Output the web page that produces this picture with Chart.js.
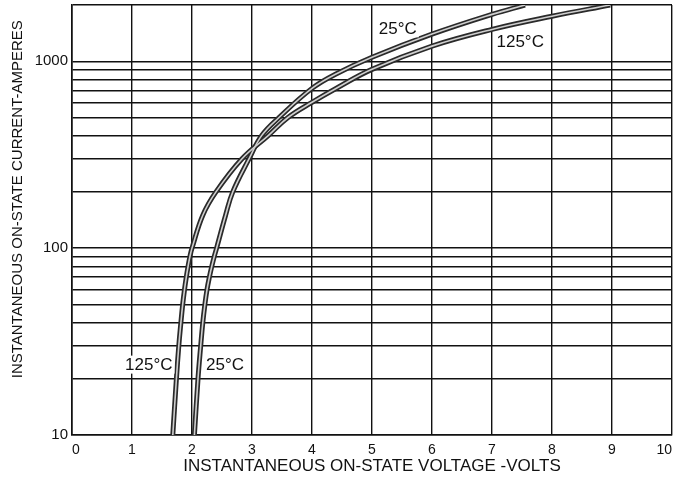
<!DOCTYPE html>
<html>
<head>
<meta charset="utf-8">
<script src="https://cdn.jsdelivr.net/npm/chart.js@4.4.0/dist/chart.umd.min.js"></script>
<style>
  html, body { margin: 0; padding: 0; background: #fff; }
  #wrap { width: 675px; height: 489px; }
</style>
</head>
<body>
<div id="wrap"><canvas id="vi"></canvas></div>
<script>
// on-state voltage (V) vs on-state current (A)
var volts25 = [2.04, 2.10, 2.145, 2.18, 2.215, 2.25, 2.29, 2.33, 2.37, 2.41, 2.56, 2.68, 2.95, 3.16, 3.45, 4.0, 4.4, 5.0, 6.0, 7.0, 7.55];
var amps25 = [10, 20, 30, 40, 50, 60, 70, 80, 90, 100, 150, 200, 300, 400, 500, 716, 855, 1050, 1397, 1782, 2000];
var volts125 = [1.68, 1.74, 1.78, 1.815, 1.845, 1.875, 1.905, 1.935, 1.965, 2.0, 2.18, 2.40, 2.83, 3.27, 3.6, 4.0, 4.4, 5.0, 6.0, 7.0, 8.0, 8.97];
var amps125 = [10, 20, 30, 40, 50, 60, 70, 80, 90, 100, 150, 200, 300, 400, 500, 603, 715, 905, 1205, 1480, 1740, 2000];

var xTicks = [0, 1, 2, 3, 4, 5, 6, 7, 8, 9, 10];
var yGrid = [10, 20, 30, 40, 50, 60, 70, 80, 90, 100, 200, 300, 400, 500, 600, 700, 800, 900, 1000, 2000];
var yLabels = [10, 100, 1000];

// temperature notes on the plot
var noteText = ['25°C', '125°C', '125°C', '25°C'];
var noteVolts = [5.43, 7.47, 1.28, 2.55];
var noteAmps = [1500, 1273, 23.8, 23.8];

function points(xs, ys) {
    return xs.map(function (v, i) { return { x: v, y: ys[i] }; });
}

// each curve is a dark wide stroke with a pale core, like the drafted double line
function curve(data, color, width, order) {
    return {
        data: data,
        borderColor: color,
        borderWidth: width,
        pointRadius: 0,
        fill: false,
        tension: 0.4,
        order: order
    };
}

var ink = '#111';
var font = '"Liberation Sans", Arial, sans-serif';

var notesPlugin = {
    id: 'notes',
    afterDatasetsDraw: function (chart) {
        var ctx = chart.ctx;
        var xs = chart.scales.x, ys = chart.scales.y;
        ctx.save();
        ctx.font = '17px ' + font;
        ctx.textAlign = 'center';
        ctx.textBaseline = 'middle';
        for (var i = 0; i < noteText.length; i++) {
            var px = xs.getPixelForValue(noteVolts[i]);
            var py = ys.getPixelForValue(noteAmps[i]);
            var w = ctx.measureText(noteText[i]).width;
            ctx.fillStyle = '#fff';
            ctx.fillRect(px - w / 2 - 2, py - 9, w + 4, 18);
            ctx.fillStyle = ink;
            ctx.fillText(noteText[i], px, py + 1);
        }
        ctx.restore();
    }
};

var ctx = document.getElementById('vi').getContext('2d');

var viChart = new Chart(ctx, {
    type: 'line',
    data: {
        datasets: [
            curve(points(volts25, amps25), '#2a2a2a', 5, 2),
            curve(points(volts125, amps125), '#2a2a2a', 5, 2),
            curve(points(volts25, amps25), '#cfcfcf', 1.6, 1),
            curve(points(volts125, amps125), '#cfcfcf', 1.6, 1)
        ]
    },
    options: {
        responsive: true,
        maintainAspectRatio: false,
        animation: false,
        layout: { padding: { left: 0, right: 3, top: 5, bottom: 0 } },
        plugins: {
            legend: { display: false },
            tooltip: { enabled: false }
        },
        scales: {
            x: {
                type: 'linear',
                min: 0,
                max: 10,
                afterBuildTicks: function (scale) {
                    scale.ticks = xTicks.map(function (v) { return { value: v }; });
                },
                afterFit: function (scale) {
                    scale.height = 54;
                    scale.paddingLeft = 0;
                    scale.paddingRight = 0;
                },
                grid: { color: ink, lineWidth: 1.4, drawTicks: false },
                border: { color: ink, width: 1.6 },
                ticks: {
                    align: 'inner',
                    autoSkip: false,
                    maxRotation: 0,
                    padding: 7,
                    color: ink,
                    font: { family: font, size: 14 }
                },
                title: {
                    display: true,
                    text: 'INSTANTANEOUS ON-STATE VOLTAGE -VOLTS',
                    color: ink,
                    font: { family: font, size: 17 },
                    padding: { top: 0, bottom: 12 }
                }
            },
            y: {
                type: 'logarithmic',
                min: 10,
                max: 2000,
                afterBuildTicks: function (scale) {
                    scale.ticks = yGrid.map(function (v) { return { value: v }; });
                },
                afterFit: function (scale) {
                    scale.width = 72;
                    scale.paddingTop = 0;
                    scale.paddingBottom = 0;
                },
                grid: { color: ink, lineWidth: 1.4, drawTicks: false },
                border: { color: ink, width: 1.6 },
                ticks: {
                    autoSkip: false,
                    padding: 4,
                    color: ink,
                    font: { family: font, size: 15 },
                    callback: function (value) {
                        return yLabels.indexOf(value) >= 0 ? String(value) : '';
                    }
                },
                title: {
                    display: true,
                    // leading spaces nudge the title up, as in the original
                    text: '          INSTANTANEOUS ON-STATE CURRENT-AMPERES',
                    color: ink,
                    font: { family: font, size: 15 },
                    padding: { top: 9, bottom: 0 }
                }
            }
        }
    },
    plugins: [notesPlugin]
});
</script>
</body>
</html>
